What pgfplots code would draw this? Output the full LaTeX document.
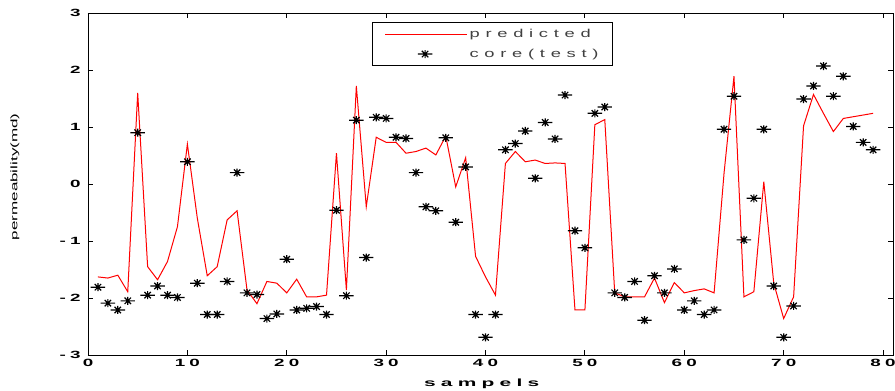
\documentclass[border=0pt]{standalone}
\usepackage{fontspec}
\setmainfont{Liberation Sans}
\newfontfamily\tickfont[FakeStretch=1.8,LetterSpace=40]{Liberation Sans}
\newfontfamily\labfont[FakeStretch=2.0,LetterSpace=50]{Liberation Sans}
\newfontfamily\legfont[FakeStretch=1.6,LetterSpace=50]{Liberation Sans}
\newfontfamily\ylabfont[FakeStretch=1.8]{Liberation Sans}
\usepackage{pgfplots}
\usepackage{pgfplotstable}
\pgfplotsset{compat=1.18}
\pgfdeclareplotmark{mstar}{%
  \pgfpathmoveto{\pgfqpoint{-1.8\pgfplotmarksize}{0pt}}\pgfpathlineto{\pgfqpoint{1.8\pgfplotmarksize}{0pt}}%
  \pgfpathmoveto{\pgfqpoint{0pt}{-\pgfplotmarksize}}\pgfpathlineto{\pgfqpoint{0pt}{\pgfplotmarksize}}%
  \pgfpathmoveto{\pgfqpoint{-0.8\pgfplotmarksize}{-0.8\pgfplotmarksize}}\pgfpathlineto{\pgfqpoint{0.8\pgfplotmarksize}{0.8\pgfplotmarksize}}%
  \pgfpathmoveto{\pgfqpoint{-0.8\pgfplotmarksize}{0.8\pgfplotmarksize}}\pgfpathlineto{\pgfqpoint{0.8\pgfplotmarksize}{-0.8\pgfplotmarksize}}%
  \pgfusepathqstroke}
\pgfplotsset{
  linelegend/.style={legend image code/.code={\draw[##1] (0bp,0bp) -- (82bp,0bp);}},
  marklegend/.style={legend image code/.code={\draw[mark repeat=2,mark phase=2,##1] plot coordinates {(0bp,0bp) (40bp,0bp) (80bp,0bp)};}},
}
\pgfplotstableread{
x y
1 -1.63
2 -1.65
3 -1.60
4 -1.89
5 1.60
6 -1.45
7 -1.68
8 -1.36
9 -0.75
10 0.70
11 -0.60
12 -1.61
13 -1.45
14 -0.63
15 -0.47
16 -1.86
17 -2.10
18 -1.71
19 -1.74
20 -1.91
21 -1.67
22 -1.98
23 -1.98
24 -1.95
25 0.54
26 -1.86
27 1.72
28 -0.40
29 0.82
30 0.73
31 0.73
32 0.54
33 0.57
34 0.63
35 0.51
36 0.84
37 -0.05
38 0.46
39 -1.27
40 -1.63
41 -1.95
42 0.36
43 0.57
44 0.39
45 0.42
46 0.36
47 0.37
48 0.36
49 -2.21
50 -2.21
51 1.04
52 1.13
53 -1.91
54 -1.98
55 -1.98
56 -1.98
57 -1.65
58 -2.08
59 -1.73
60 -1.91
61 -1.87
62 -1.84
63 -1.91
64 0.19
65 1.89
66 -1.98
67 -1.89
68 0.04
69 -1.74
70 -2.36
71 -1.98
72 1.02
73 1.57
74 1.24
75 0.92
76 1.15
77 1.18
78 1.21
79 1.24
}\predicted
\pgfplotstableread{
x y
1 -1.81
2 -2.09
3 -2.21
4 -2.05
5 0.90
6 -1.95
7 -1.79
8 -1.95
9 -1.99
10 0.39
11 -1.74
12 -2.29
13 -2.29
14 -1.71
15 0.20
16 -1.91
17 -1.94
18 -2.36
19 -2.28
20 -1.32
21 -2.21
22 -2.18
23 -2.15
24 -2.29
25 -0.46
26 -1.96
27 1.12
28 -1.29
29 1.17
30 1.15
31 0.82
32 0.80
33 0.20
34 -0.40
35 -0.47
36 0.81
37 -0.67
38 0.30
39 -2.29
40 -2.69
41 -2.29
42 0.60
43 0.71
44 0.93
45 0.10
46 1.08
47 0.79
48 1.56
49 -0.82
50 -1.12
51 1.24
52 1.35
53 -1.91
54 -1.99
55 -1.71
56 -2.39
57 -1.61
58 -1.91
59 -1.49
60 -2.21
61 -2.05
62 -2.29
63 -2.21
64 0.96
65 1.54
66 -0.98
67 -0.25
68 0.96
69 -1.79
70 -2.69
71 -2.14
72 1.49
73 1.72
74 2.07
75 1.54
76 1.89
77 1.01
78 0.73
79 0.60
}\core
\begin{document}
\begin{tikzpicture}
\useasboundingbox (-88bp,-36bp) rectangle (807bp,355bp);
\begin{axis}[
  scale only axis, width=805bp, height=342bp,
  xmin=0, xmax=81, ymin=-3, ymax=3,
  xtick={0,10,...,80}, ytick={-3,-2,...,3},
  tick align=inside, xtick pos=both, ytick pos=both,
  major tick length=5bp,
  axis line style={line width=0.9bp},
  every tick/.style={line width=0.9bp, black},
  /pgf/number format/assume math mode=true,
  ticklabel style={font=\tickfont\bfseries\fontsize{10.5}{10.5}\selectfont},
  xticklabel style={yshift=-1bp},
  yticklabel style={xshift=-4bp},
  xlabel={sampels},
  xlabel style={at={(axis description cs:0.489,0)}, anchor=center, yshift=-28.5bp, font=\labfont\bfseries\fontsize{10.5}{10.5}\selectfont},
  ylabel={permeability(md)},
  ylabel style={at={(axis description cs:-0.0907,0.521)}, anchor=center, font=\ylabfont\fontsize{9.5}{9.5}\selectfont},
  legend style={at={(axis description cs:0.353,0.974)}, anchor=north west, draw=black, line width=0.9bp,
    font=\legfont\fontsize{11.5}{12}\selectfont, text=black!75, legend cell align=left, row sep=6bp,
    inner xsep=12bp, inner ysep=5bp},
]
\addplot[red, line width=1bp, mark=none, linelegend] table[x=x,y=y] {\predicted};
\addlegendentry{predicted}
\addplot[only marks, black, mark=mstar, mark size=4bp, mark options={line width=1.2bp}, marklegend] table[x=x,y=y] {\core};
\addlegendentry{core(test)}
\end{axis}
\end{tikzpicture}
\end{document}
